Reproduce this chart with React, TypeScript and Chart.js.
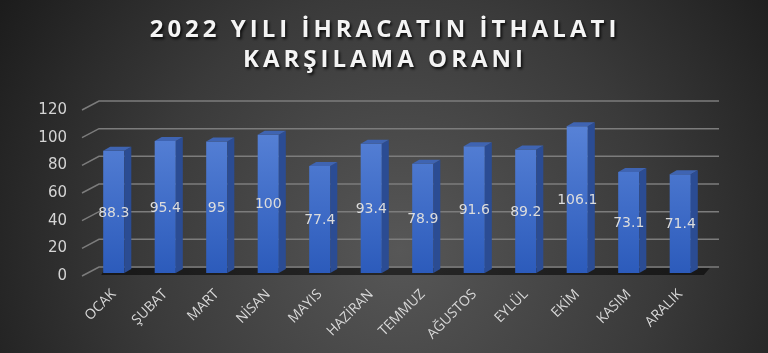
import React, { useEffect, useRef } from "react";
import { Chart, registerables } from "chart.js";

Chart.register(...registerables);

const categories = ["OCAK", "ŞUBAT", "MART", "NİSAN", "MAYIS", "HAZİRAN", "TEMMUZ", "AĞUSTOS", "EYLÜL", "EKİM", "KASIM", "ARALIK"];
const values = [88.3, 95.4, 95, 100, 77.4, 93.4, 78.9, 91.6, 89.2, 106.1, 73.1, 71.4];
const titleLines = ["2022 YILI İHRACATIN İTHALATI", "KARŞILAMA ORANI"];
const yMin = 0;
const yMax = 120;
const yStep = 20;

const DX = 7;
const DY = 4;

const bgPlugin = {
  id: "bgPlugin",
  beforeDraw(chart: any) {
    const ctx = chart.ctx;
    const w = chart.width;
    const h = chart.height;
    ctx.save();
    const g = ctx.createRadialGradient(400, 250, 0, 400, 250, 470);
    g.addColorStop(0, "#575757");
    g.addColorStop(0.55, "#3a3a3a");
    g.addColorStop(1, "#1c1c1c");
    ctx.fillStyle = g;
    ctx.fillRect(0, 0, w, h);
    ctx.font = "bold 24px 'Open Sans'";
    (ctx as any).letterSpacing = "4px";
    ctx.textAlign = "center";
    ctx.textBaseline = "middle";
    ctx.shadowColor = "rgba(0,0,0,0.85)";
    ctx.shadowBlur = 3;
    ctx.shadowOffsetX = 1.5;
    ctx.shadowOffsetY = 2;
    ctx.fillStyle = "#f4f4f4";
    ctx.fillText(titleLines[0], 385, 30);
    ctx.fillText(titleLines[1], 385, 60);
    ctx.restore();
  },
};

const gridPlugin = {
  id: "gridPlugin",
  beforeDatasetsDraw(chart: any) {
    const ctx = chart.ctx;
    const y = chart.scales.y;
    const area = chart.chartArea;
    const backLeft = area.left + 11;
    const backRight = 719;
    ctx.save();
    ctx.strokeStyle = "#7c7c7c";
    ctx.lineWidth = 1.5;
    for (let v = yMin; v <= yMax; v += yStep) {
      const py = y.getPixelForValue(v);
      ctx.beginPath();
      ctx.moveTo(area.left - 6, py + 3);
      ctx.lineTo(backLeft, py - 6);
      ctx.lineTo(backRight, py - 6);
      ctx.stroke();
    }
    const y0 = y.getPixelForValue(0);
    const meta = chart.getDatasetMeta(0);
    const first = meta.data[0];
    const last = meta.data[meta.data.length - 1];
    const x1 = first.x - first.width / 2 - 2;
    const x2 = last.x + last.width / 2 + DX + 12;
    ctx.fillStyle = "rgba(0,0,0,0.55)";
    ctx.beginPath();
    ctx.moveTo(x1, y0 + 2);
    ctx.lineTo(x1 + 4, y0 - 5);
    ctx.lineTo(x2, y0 - 5);
    ctx.lineTo(x2 - 6, y0 + 2);
    ctx.closePath();
    ctx.fill();
    ctx.restore();
  },
};

const barsPlugin = {
  id: "barsPlugin",
  afterDatasetsDraw(chart: any) {
    const ctx = chart.ctx;
    const meta = chart.getDatasetMeta(0);
    ctx.save();
    meta.data.forEach((bar: any) => {
      const { x, y, base, width } = bar.getProps(["x", "y", "base", "width"], true);
      const l = x - width / 2;
      const r = x + width / 2;
      ctx.fillStyle = "#2b4c93";
      ctx.beginPath();
      ctx.moveTo(r, y);
      ctx.lineTo(r + DX, y - DY);
      ctx.lineTo(r + DX, base - DY);
      ctx.lineTo(r, base);
      ctx.closePath();
      ctx.fill();
      ctx.fillStyle = "#3f64b2";
      ctx.beginPath();
      ctx.moveTo(l, y);
      ctx.lineTo(l + DX, y - DY);
      ctx.lineTo(r + DX, y - DY);
      ctx.lineTo(r, y);
      ctx.closePath();
      ctx.fill();
    });
    ctx.font = "14px 'DejaVu Sans'";
    ctx.fillStyle = "#dcdcdc";
    ctx.textAlign = "center";
    ctx.textBaseline = "middle";
    meta.data.forEach((bar: any, i: number) => {
      const { x, y, base } = bar.getProps(["x", "y", "base"], true);
      ctx.fillText(String(values[i]), x, (y + base) / 2 + 1);
    });
    ctx.restore();
  },
};

export default function App() {
  const ref = useRef<HTMLCanvasElement>(null);
  useEffect(() => {
    if (!ref.current) return;
    const chart = new Chart(ref.current, {
      type: "bar",
      data: {
        labels: categories,
        datasets: [
          {
            data: values,
            backgroundColor: (c: any) => {
              const ch = c.chart;
              const a = ch.chartArea;
              if (!a) return "#4472c4";
              const g = ch.ctx.createLinearGradient(0, a.top, 0, a.bottom);
              g.addColorStop(0, "#5d87da");
              g.addColorStop(1, "#2c5bbb");
              return g;
            },
            borderWidth: 0,
            categoryPercentage: 1,
            barPercentage: 0.41,
          },
        ],
      },
      options: {
        responsive: false,
        animation: false,
        devicePixelRatio: 1,
        layout: { padding: { top: 107, right: 62, left: 0, bottom: 0 } },
        plugins: {
          legend: { display: false },
          tooltip: { enabled: false },
          title: { display: false },
        },
        scales: {
          x: {
            grid: { display: false, drawTicks: false },
            border: { display: false },
            ticks: {
              color: "#d8d8d8",
              font: { family: "'Open Sans'", size: 14 },
              minRotation: 45,
              maxRotation: 45,
              autoSkip: false,
              padding: 13,
            },
            afterFit(s: any) {
              s.height = 80;
            },
          },
          y: {
            min: yMin,
            max: yMax,
            grid: { display: false, drawTicks: false },
            border: { display: false },
            ticks: {
              stepSize: yStep,
              color: "#d4d4d4",
              font: { family: "'DejaVu Sans'", size: 15 },
              padding: 21,
              labelOffset: 3,
            },
            afterFit(s: any) {
              s.width = 88;
            },
          },
        },
      },
      plugins: [bgPlugin, gridPlugin, barsPlugin],
    });
    return () => chart.destroy();
  }, []);
  return (
    <div style={{ position: "fixed", left: 0, top: 0, width: 768, height: 353 }}>
      <canvas ref={ref} width={768} height={353} style={{ display: "block" }} />
    </div>
  );
}
